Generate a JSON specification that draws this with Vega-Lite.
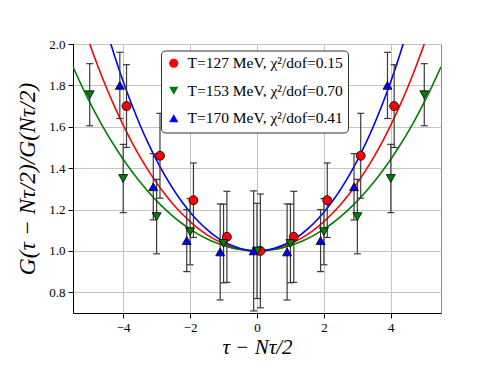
{
  "$schema": "https://vega.github.io/schema/vega-lite/v6.json",
  "autosize": "none",
  "width": 368,
  "height": 269,
  "padding": {"left": 73, "top": 44, "right": 49, "bottom": 55},
  "background": "white",
  "config": {
    "font": "Liberation Serif",
    "view": {"stroke": "#888888", "strokeWidth": 1},
    "axis": {
      "grid": true,
      "gridColor": "#c4c4c4",
      "gridWidth": 1,
      "domainColor": "black",
      "domainWidth": 1,
      "tickColor": "black",
      "tickSize": 5,
      "labelFont": "Liberation Serif",
      "labelFontSize": 13,
      "labelColor": "black",
      "labelPadding": 3,
      "titleFont": "Liberation Serif",
      "titleFontWeight": "normal",
      "titleFontStyle": "italic",
      "titleColor": "black",
      "titleFontSize": 21
    },
    "legend": {
      "orient": "none",
      "legendX": 88,
      "legendY": 6.5,
      "labelFont": "Liberation Serif",
      "labelFontSize": 15.5,
      "labelColor": "black",
      "labelOffset": 6,
      "symbolSize": 85,
      "symbolStrokeColor": "black",
      "symbolStrokeWidth": 0.9,
      "strokeColor": "#333333",
      "fillColor": "white",
      "cornerRadius": 4,
      "padding": 5,
      "rowPadding": 10.5
    }
  },
  "datasets": {
    "pts": [
      {"k": "127", "x": -3.9, "y": 1.70, "lo": 1.50, "hi": 1.90},
      {"k": "127", "x": -2.9, "y": 1.46, "lo": 1.255, "hi": 1.665},
      {"k": "127", "x": -1.9, "y": 1.245, "lo": 1.065, "hi": 1.425},
      {"k": "127", "x": -0.9, "y": 1.068, "lo": 0.848, "hi": 1.288},
      {"k": "127", "x": 0.1, "y": 1.0, "lo": 0.725, "hi": 1.275},
      {"k": "127", "x": 1.1, "y": 1.068, "lo": 0.848, "hi": 1.288},
      {"k": "127", "x": 2.1, "y": 1.245, "lo": 1.065, "hi": 1.425},
      {"k": "127", "x": 3.1, "y": 1.46, "lo": 1.255, "hi": 1.665},
      {"k": "127", "x": 4.1, "y": 1.70, "lo": 1.50, "hi": 1.90},
      {"k": "153", "x": -5, "y": 1.755, "lo": 1.605, "hi": 1.905},
      {"k": "153", "x": -4, "y": 1.35, "lo": 1.185, "hi": 1.515},
      {"k": "153", "x": -3, "y": 1.166, "lo": 0.986, "hi": 1.346},
      {"k": "153", "x": -2, "y": 1.093, "lo": 0.933, "hi": 1.253},
      {"k": "153", "x": -1, "y": 1.036, "lo": 0.846, "hi": 1.226},
      {"k": "153", "x": 0, "y": 1.0, "lo": 0.77, "hi": 1.23},
      {"k": "153", "x": 1, "y": 1.036, "lo": 0.846, "hi": 1.226},
      {"k": "153", "x": 2, "y": 1.093, "lo": 0.933, "hi": 1.253},
      {"k": "153", "x": 3, "y": 1.166, "lo": 0.986, "hi": 1.346},
      {"k": "153", "x": 4, "y": 1.35, "lo": 1.185, "hi": 1.515},
      {"k": "153", "x": 5, "y": 1.755, "lo": 1.605, "hi": 1.905},
      {"k": "170", "x": -4.1, "y": 1.80, "lo": 1.64, "hi": 1.96},
      {"k": "170", "x": -3.1, "y": 1.31, "lo": 1.15, "hi": 1.47},
      {"k": "170", "x": -2.1, "y": 1.05, "lo": 0.90, "hi": 1.20},
      {"k": "170", "x": -1.1, "y": 0.995, "lo": 0.763, "hi": 1.227},
      {"k": "170", "x": -0.1, "y": 1.0, "lo": 0.71, "hi": 1.29},
      {"k": "170", "x": 0.9, "y": 0.995, "lo": 0.763, "hi": 1.227},
      {"k": "170", "x": 1.9, "y": 1.05, "lo": 0.90, "hi": 1.20},
      {"k": "170", "x": 2.9, "y": 1.31, "lo": 1.15, "hi": 1.47},
      {"k": "170", "x": 3.9, "y": 1.80, "lo": 1.64, "hi": 1.96}
    ],
    "fit": [
      {"k": "127", "x": -5.25, "y": 2.1186}, {"k": "127", "x": -5, "y": 2.0001}, {"k": "127", "x": -4.75, "y": 1.8903},
      {"k": "127", "x": -4.5, "y": 1.7887}, {"k": "127", "x": -4.25, "y": 1.6948}, {"k": "127", "x": -4, "y": 1.6083},
      {"k": "127", "x": -3.75, "y": 1.5288}, {"k": "127", "x": -3.5, "y": 1.4559}, {"k": "127", "x": -3.25, "y": 1.3893},
      {"k": "127", "x": -3, "y": 1.3288}, {"k": "127", "x": -2.75, "y": 1.2740}, {"k": "127", "x": -2.5, "y": 1.2248},
      {"k": "127", "x": -2.25, "y": 1.1808}, {"k": "127", "x": -2, "y": 1.1420}, {"k": "127", "x": -1.75, "y": 1.1081},
      {"k": "127", "x": -1.5, "y": 1.0791}, {"k": "127", "x": -1.25, "y": 1.0547}, {"k": "127", "x": -1, "y": 1.0349},
      {"k": "127", "x": -0.75, "y": 1.0196}, {"k": "127", "x": -0.5, "y": 1.0087}, {"k": "127", "x": -0.25, "y": 1.0022},
      {"k": "127", "x": 0, "y": 1.0},
      {"k": "127", "x": 0.25, "y": 1.0022}, {"k": "127", "x": 0.5, "y": 1.0087}, {"k": "127", "x": 0.75, "y": 1.0196},
      {"k": "127", "x": 1, "y": 1.0349}, {"k": "127", "x": 1.25, "y": 1.0547}, {"k": "127", "x": 1.5, "y": 1.0791},
      {"k": "127", "x": 1.75, "y": 1.1081}, {"k": "127", "x": 2, "y": 1.1420}, {"k": "127", "x": 2.25, "y": 1.1808},
      {"k": "127", "x": 2.5, "y": 1.2248}, {"k": "127", "x": 2.75, "y": 1.2740}, {"k": "127", "x": 3, "y": 1.3288},
      {"k": "127", "x": 3.25, "y": 1.3893}, {"k": "127", "x": 3.5, "y": 1.4559}, {"k": "127", "x": 3.75, "y": 1.5288},
      {"k": "127", "x": 4, "y": 1.6083}, {"k": "127", "x": 4.25, "y": 1.6948}, {"k": "127", "x": 4.5, "y": 1.7887},
      {"k": "127", "x": 4.75, "y": 1.8903}, {"k": "127", "x": 5, "y": 2.0001}, {"k": "127", "x": 5.25, "y": 2.1186},

      {"k": "153", "x": -5.5, "y": 1.8895}, {"k": "153", "x": -5.25, "y": 1.8014}, {"k": "153", "x": -5, "y": 1.7191},
      {"k": "153", "x": -4.75, "y": 1.6423}, {"k": "153", "x": -4.5, "y": 1.5709}, {"k": "153", "x": -4.25, "y": 1.5045},
      {"k": "153", "x": -4, "y": 1.4430}, {"k": "153", "x": -3.75, "y": 1.3862}, {"k": "153", "x": -3.5, "y": 1.3338},
      {"k": "153", "x": -3.25, "y": 1.2858}, {"k": "153", "x": -3, "y": 1.2419}, {"k": "153", "x": -2.75, "y": 1.2020},
      {"k": "153", "x": -2.5, "y": 1.1660}, {"k": "153", "x": -2.25, "y": 1.1338}, {"k": "153", "x": -2, "y": 1.1052},
      {"k": "153", "x": -1.75, "y": 1.0802}, {"k": "153", "x": -1.5, "y": 1.0587}, {"k": "153", "x": -1.25, "y": 1.0407},
      {"k": "153", "x": -1, "y": 1.0260}, {"k": "153", "x": -0.75, "y": 1.0146}, {"k": "153", "x": -0.5, "y": 1.0065},
      {"k": "153", "x": -0.25, "y": 1.0016}, {"k": "153", "x": 0, "y": 1.0},
      {"k": "153", "x": 0.25, "y": 1.0016}, {"k": "153", "x": 0.5, "y": 1.0065}, {"k": "153", "x": 0.75, "y": 1.0146},
      {"k": "153", "x": 1, "y": 1.0260}, {"k": "153", "x": 1.25, "y": 1.0407}, {"k": "153", "x": 1.5, "y": 1.0587},
      {"k": "153", "x": 1.75, "y": 1.0802}, {"k": "153", "x": 2, "y": 1.1052}, {"k": "153", "x": 2.25, "y": 1.1338},
      {"k": "153", "x": 2.5, "y": 1.1660}, {"k": "153", "x": 2.75, "y": 1.2020}, {"k": "153", "x": 3, "y": 1.2419},
      {"k": "153", "x": 3.25, "y": 1.2858}, {"k": "153", "x": 3.5, "y": 1.3338}, {"k": "153", "x": 3.75, "y": 1.3862},
      {"k": "153", "x": 4, "y": 1.4430}, {"k": "153", "x": 4.25, "y": 1.5045}, {"k": "153", "x": 4.5, "y": 1.5709},
      {"k": "153", "x": 4.75, "y": 1.6423}, {"k": "153", "x": 5, "y": 1.7191}, {"k": "153", "x": 5.25, "y": 1.8014},
      {"k": "153", "x": 5.5, "y": 1.8895},

      {"k": "170", "x": -4.5, "y": 2.0697}, {"k": "170", "x": -4.25, "y": 1.9389}, {"k": "170", "x": -4, "y": 1.8191},
      {"k": "170", "x": -3.75, "y": 1.7097}, {"k": "170", "x": -3.5, "y": 1.6100}, {"k": "170", "x": -3.25, "y": 1.5194},
      {"k": "170", "x": -3, "y": 1.4374}, {"k": "170", "x": -2.75, "y": 1.3636}, {"k": "170", "x": -2.5, "y": 1.2976},
      {"k": "170", "x": -2.25, "y": 1.2389}, {"k": "170", "x": -2, "y": 1.1873}, {"k": "170", "x": -1.75, "y": 1.1424},
      {"k": "170", "x": -1.5, "y": 1.1040}, {"k": "170", "x": -1.25, "y": 1.0718}, {"k": "170", "x": -1, "y": 1.0458},
      {"k": "170", "x": -0.75, "y": 1.0257}, {"k": "170", "x": -0.5, "y": 1.0114}, {"k": "170", "x": -0.25, "y": 1.0028},
      {"k": "170", "x": 0, "y": 1.0},
      {"k": "170", "x": 0.25, "y": 1.0028}, {"k": "170", "x": 0.5, "y": 1.0114}, {"k": "170", "x": 0.75, "y": 1.0257},
      {"k": "170", "x": 1, "y": 1.0458}, {"k": "170", "x": 1.25, "y": 1.0718}, {"k": "170", "x": 1.5, "y": 1.1040},
      {"k": "170", "x": 1.75, "y": 1.1424}, {"k": "170", "x": 2, "y": 1.1873}, {"k": "170", "x": 2.25, "y": 1.2389},
      {"k": "170", "x": 2.5, "y": 1.2976}, {"k": "170", "x": 2.75, "y": 1.3636}, {"k": "170", "x": 3, "y": 1.4374},
      {"k": "170", "x": 3.25, "y": 1.5194}, {"k": "170", "x": 3.5, "y": 1.6100}, {"k": "170", "x": 3.75, "y": 1.7097},
      {"k": "170", "x": 4, "y": 1.8191}, {"k": "170", "x": 4.25, "y": 1.9389}, {"k": "170", "x": 4.5, "y": 2.0697}
    ]
  },
  "layer": [
    {
      "data": {"name": "fit"},
      "mark": {"type": "line", "clip": true, "strokeWidth": 1.6, "interpolate": "monotone"},
      "encoding": {
        "x": {"field": "x", "type": "quantitative", "title": "τ − Nτ/2",
              "scale": {"domain": [-5.5, 5.5], "nice": false, "zero": false},
              "axis": {"values": [-4, -2, 0, 2, 4], "titleY": 34, "titleBaseline": "middle", "labelFont": "Liberation Serif"}},
        "y": {"field": "y", "type": "quantitative", "title": "G(τ − Nτ/2)/G(Nτ/2)",
              "scale": {"domain": [0.7, 2.0], "nice": false, "zero": false},
              "axis": {"values": [0.8, 1.0, 1.2, 1.4, 1.6, 1.8, 2.0], "format": ".1f", "titlePadding": 9, "titleFontSize": 23.5, "labelFont": "Liberation Serif"}},
        "stroke": {"field": "k", "type": "nominal",
                   "scale": {"domain": ["170", "153", "127"], "range": ["#0000ff", "#008000", "#ff0000"]},
                   "legend": null}
      }
    },
    {
      "data": {"name": "pts"},
      "mark": {"type": "rule", "color": "#3a3a3a", "strokeWidth": 1.2},
      "encoding": {
        "x": {"field": "x", "type": "quantitative", "title": "τ − Nτ/2"},
        "y": {"field": "lo", "type": "quantitative", "title": "G(τ − Nτ/2)/G(Nτ/2)"},
        "y2": {"field": "hi"}
      }
    },
    {
      "data": {"name": "pts"},
      "mark": {"type": "tick", "orient": "horizontal", "size": 7, "thickness": 1.2, "color": "#3a3a3a", "opacity": 1},
      "encoding": {
        "x": {"field": "x", "type": "quantitative", "title": "τ − Nτ/2"},
        "y": {"field": "lo", "type": "quantitative", "title": "G(τ − Nτ/2)/G(Nτ/2)"}
      }
    },
    {
      "data": {"name": "pts"},
      "mark": {"type": "tick", "orient": "horizontal", "size": 7, "thickness": 1.2, "color": "#3a3a3a", "opacity": 1},
      "encoding": {
        "x": {"field": "x", "type": "quantitative", "title": "τ − Nτ/2"},
        "y": {"field": "hi", "type": "quantitative", "title": "G(τ − Nτ/2)/G(Nτ/2)"}
      }
    },
    {
      "data": {"name": "pts"},
      "mark": {"type": "point", "filled": true, "size": 81, "stroke": "black", "strokeWidth": 0.8, "opacity": 1},
      "encoding": {
        "x": {"field": "x", "type": "quantitative", "title": "τ − Nτ/2"},
        "y": {"field": "y", "type": "quantitative", "title": "G(τ − Nτ/2)/G(Nτ/2)"},
        "shape": {"field": "k", "type": "nominal",
                  "scale": {"domain": ["127", "153", "170"], "range": ["circle", "triangle-down", "triangle-up"]},
                  "legend": {"title": null,
                    "labelExpr": "datum.value === '127' ? 'T=127 MeV, χ²/dof=0.15' : datum.value === '153' ? 'T=153 MeV, χ²/dof=0.70' : 'T=170 MeV, χ²/dof=0.41'"}},
        "fill": {"field": "k", "type": "nominal",
                 "scale": {"domain": ["127", "153", "170"], "range": ["#ff0000", "#008000", "#0000ff"]},
                 "legend": {"title": null,
                    "labelExpr": "datum.value === '127' ? 'T=127 MeV, χ²/dof=0.15' : datum.value === '153' ? 'T=153 MeV, χ²/dof=0.70' : 'T=170 MeV, χ²/dof=0.41'"}}
      }
    }
  ]
}
